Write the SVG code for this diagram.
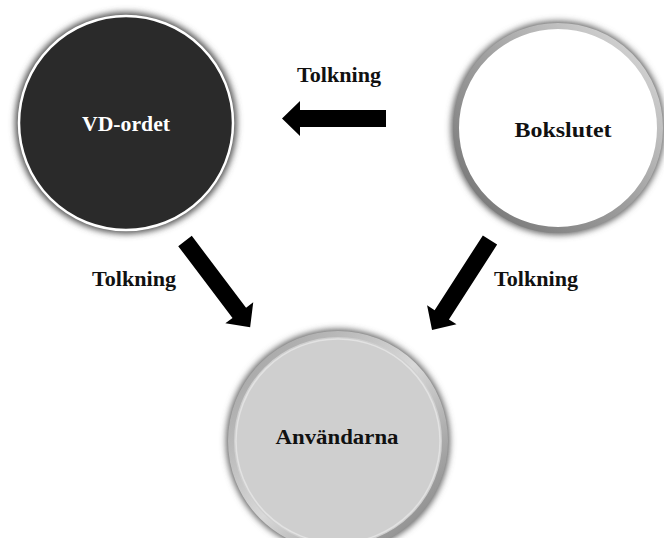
<svg xmlns="http://www.w3.org/2000/svg" width="664" height="538" viewBox="0 0 664 538">
<defs>
<filter id="glow" x="-20%" y="-20%" width="140%" height="140%">
<feGaussianBlur stdDeviation="3"/>
</filter>
<linearGradient id="ring" x1="0" y1="0" x2="1" y2="1">
<stop offset="0" stop-color="#9a9a9a"/>
<stop offset="0.5" stop-color="#d8d8d8"/>
<stop offset="1" stop-color="#7a7a7a"/>
</linearGradient>
<linearGradient id="ring2" x1="1" y1="0" x2="0" y2="1">
<stop offset="0" stop-color="#e0e0e0"/>
<stop offset="0.5" stop-color="#a0a0a0"/>
<stop offset="1" stop-color="#707070"/>
</linearGradient>
</defs>
<style>
.lbl{font-family:"Liberation Serif","DejaVu Serif",serif;font-weight:bold;font-size:20px;text-anchor:middle;fill:#111}
.ar{fill:#000}
</style>
<g id="node-vd">
<circle cx="126" cy="123" r="111" fill="#555" filter="url(#glow)"/>
<circle cx="126" cy="123" r="107" fill="#2a2a2a" stroke="#ffffff" stroke-width="2.5"/>
<text class="lbl" x="126" y="131" style="fill:#fff" textLength="88" lengthAdjust="spacingAndGlyphs">VD-ordet</text>
</g>
<g id="node-bokslutet">
<circle cx="558" cy="128" r="107" fill="#666" filter="url(#glow)"/>
<circle cx="558" cy="128" r="102" fill="#ffffff" stroke="url(#ring2)" stroke-width="6"/>
<text class="lbl" x="563" y="137" textLength="97" lengthAdjust="spacingAndGlyphs">Bokslutet</text>
</g>
<g id="node-anvandarna">
<circle cx="338" cy="441" r="112" fill="#666" filter="url(#glow)"/>
<circle cx="338" cy="441" r="107" fill="#cfcfcf" stroke="url(#ring)" stroke-width="6"/>
<circle cx="338" cy="441" r="102" fill="none" stroke="#e2e2e2" stroke-width="1.5"/>
<text class="lbl" x="337" y="444" textLength="123" lengthAdjust="spacingAndGlyphs">Användarna</text>
</g>
<g id="connectors">
<polygon class="ar" transform="translate(386,118.5) rotate(180)" points="0,-8.5 86,-8.5 86,-17.5 104,0 86,17.5 86,8.5 0,8.5"/>
<polygon class="ar" transform="translate(185,241) rotate(52.9)" points="0,-8.5 90,-8.5 90,-17.5 108,0 90,17.5 90,8.5 0,8.5"/>
<polygon class="ar" transform="translate(490,240) rotate(122.8)" points="0,-8.5 89,-8.5 89,-17.5 107,0 89,17.5 89,8.5 0,8.5"/>
<text class="lbl" x="339" y="82" textLength="84" lengthAdjust="spacingAndGlyphs">Tolkning</text>
<text class="lbl" x="134" y="286" textLength="84" lengthAdjust="spacingAndGlyphs">Tolkning</text>
<text class="lbl" x="536" y="286" textLength="84" lengthAdjust="spacingAndGlyphs">Tolkning</text>
</g>
</svg>
